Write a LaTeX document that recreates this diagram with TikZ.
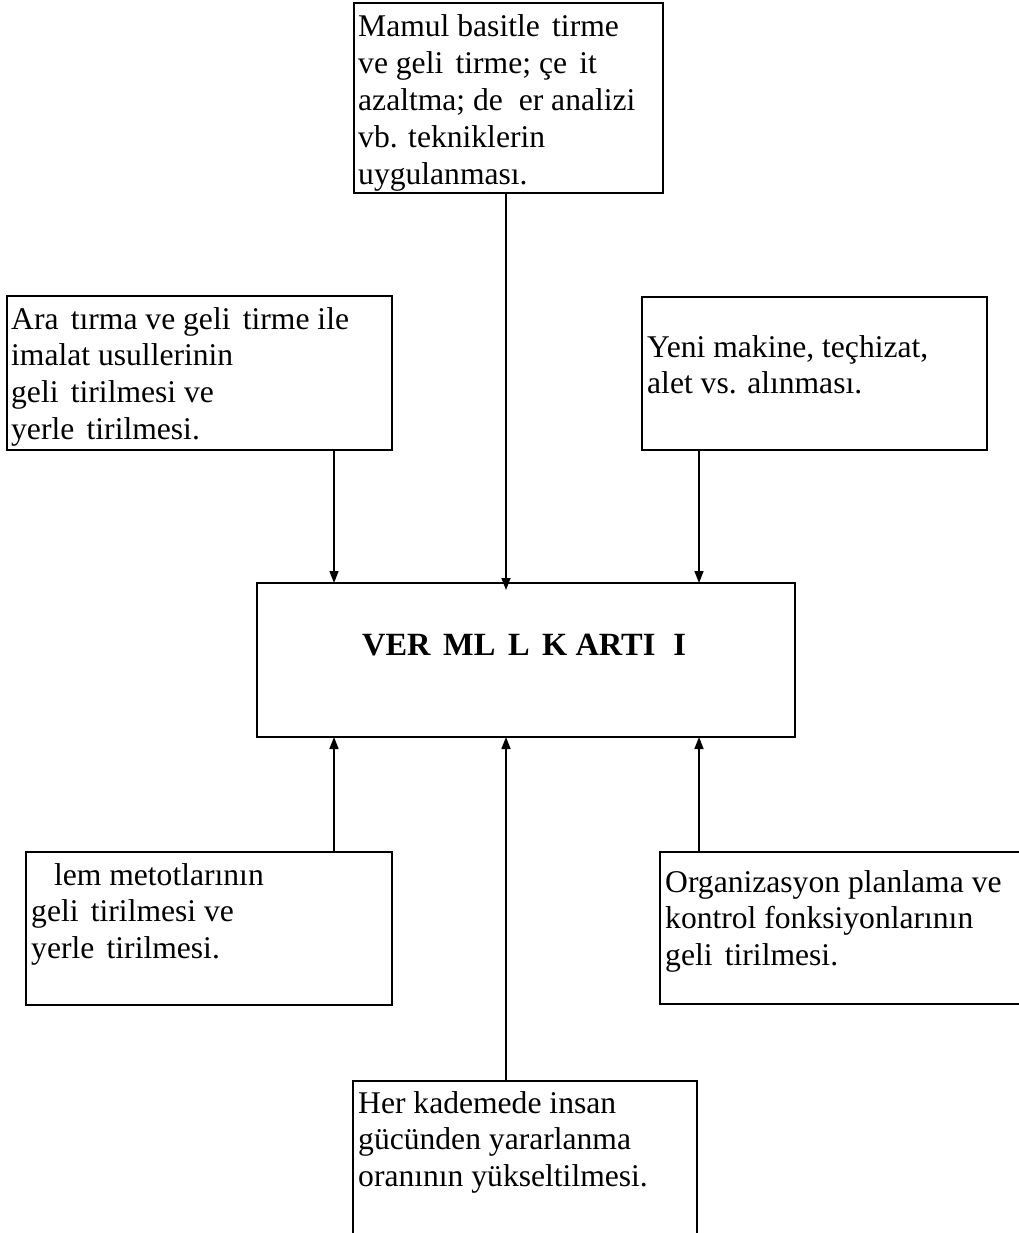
\documentclass[tikz,border=0pt]{standalone}
\usepackage{fontspec}
\setmainfont{Liberation Serif}
\usetikzlibrary{arrows.meta,calc}
% block of left-aligned lines whose baseline is the first line's baseline
\newcommand{\boxlines}[1]{\begin{tabular}[t]{@{}l@{}}#1\end{tabular}}
% blank spaces left by glyphs that were not printed
\newcommand{\gaps}{\hphantom{s}}
\newcommand{\gapg}{\hphantom{g}}
\newcommand{\gapI}{\hphantom{I}}
\newcommand{\gapS}{\hphantom{S}}
\begin{document}
\begin{tikzpicture}[x=1pt,y=-1pt,
  frame/.style={draw, line width=2.4pt, inner sep=0pt, outer sep=0pt, anchor=north west},
  blocktext/.style={anchor=base west, inner sep=0pt, font=\fontsize{31.6}{36.8}\selectfont},
  feed/.style={line width=1.5pt, -{Triangle[length=12pt,width=9pt]}}]
\clip (0,0) rectangle (1019,1233);
\fill[white] (0,0) rectangle (1019,1233);

% column positions of the connectors
\coordinate (cL) at (334,0);
\coordinate (cM) at (506,0);
\coordinate (cR) at (699,0);

% boxes
\node[frame, minimum width=309pt, minimum height=190pt] (top) at (354,3) {};
\node[frame, minimum width=385pt, minimum height=154pt] (tl) at (7,296) {};
\node[frame, minimum width=345pt, minimum height=153pt] (tr) at (642,297) {};
\node[frame, minimum width=538pt, minimum height=154pt, line width=2.6pt] (main) at (257,583) {};
\node[frame, minimum width=366pt, minimum height=153pt] (bl) at (26,852) {};
\node[frame, minimum width=380pt, minimum height=152pt] (br) at (660,852) {};
\node[frame, minimum width=344pt, minimum height=180pt] (bot) at (353,1081) {};

% texts
\node[blocktext] (ttop) at (358,37) {\boxlines{Mamul basitle\gaps tirme\\ ve geli\gaps tirme; çe\gaps it\\ azaltma; de\gapg er analizi\\ vb. tekniklerin\\ uygulanması.}};
\node[blocktext] (ttl) at (11,329) {\boxlines{Ara\gaps tırma ve geli\gaps tirme ile\\ imalat usullerinin\\ geli\gaps tirilmesi ve\\ yerle\gaps tirilmesi.}};
\node[blocktext] (ttr) at (647,357) {\boxlines{Yeni makine, teçhizat,\\ alet vs. alınması.}};
\node[anchor=base west, inner sep=0pt, font=\fontsize{32.4}{37}\selectfont\bfseries] (tmain) at (362,655) {VER\gapI ML\gapI L\gapI K ARTI\gapS I};
\node[blocktext] (tbl) at (31,885) {\boxlines{\gapI\gaps lem metotlarının\\ geli\gaps tirilmesi ve\\ yerle\gaps tirilmesi.}};
\node[blocktext] (tbr) at (665,892) {\boxlines{Organizasyon planlama ve\\ kontrol fonksiyonlarının\\ geli\gaps tirilmesi.}};
\node[blocktext] (tbot) at (358,1113) {\boxlines{Her kademede insan\\ gücünden yararlanma\\ oranının yükseltilmesi.}};

% connectors into the central box
\draw[feed] (tl.south -| cL) -- (main.north -| cL);
\draw[feed] (top.south -| cM) -- ($(main.north -| cM)+(0,7)$);
\draw[feed] (tr.south -| cR) -- (main.north -| cR);
\draw[feed] (bl.north -| cL) -- (main.south -| cL);
\draw[feed] (bot.north -| cM) -- (main.south -| cM);
\draw[feed] (br.north -| cR) -- (main.south -| cR);
\end{tikzpicture}
\end{document}
